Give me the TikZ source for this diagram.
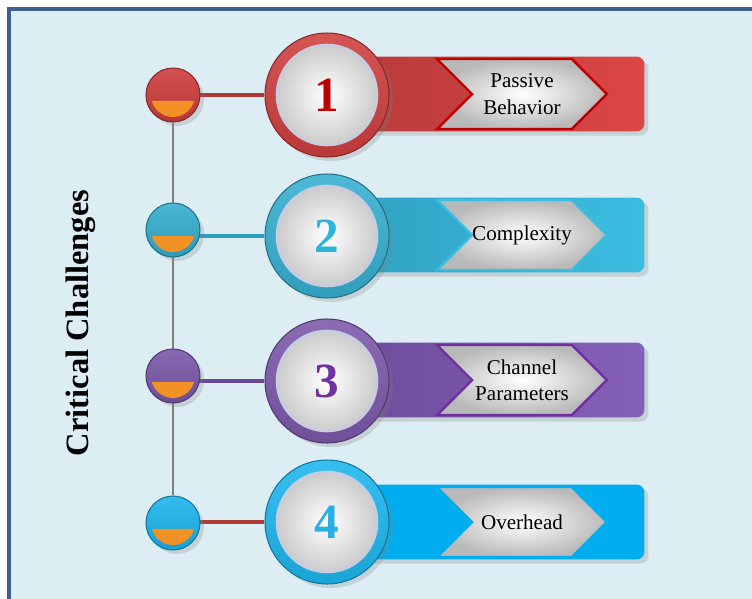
\documentclass[tikz,border=0pt]{standalone}
\usepackage{fontspec}
\setmainfont{Liberation Serif}
\usetikzlibrary{shapes.symbols,shadows}

\definecolor{bgblue}{HTML}{DCEEF4}
\definecolor{framecol}{HTML}{3F5F92}
\definecolor{dotorange}{HTML}{F39224}
\definecolor{lavender}{HTML}{C8CCE0}
\definecolor{redA}{HTML}{B23838}
\definecolor{redB}{HTML}{DC4646}
\definecolor{redRing}{HTML}{CF3E3E}
\definecolor{redNum}{HTML}{C00000}
\definecolor{tealA}{HTML}{2E9EBE}
\definecolor{tealB}{HTML}{3BBDE0}
\definecolor{tealRing}{HTML}{35AFD0}
\definecolor{tealNum}{HTML}{2BB5DA}
\definecolor{purA}{HTML}{6A4896}
\definecolor{purB}{HTML}{8560B8}
\definecolor{purRing}{HTML}{7C58AA}
\definecolor{purNum}{HTML}{7030A0}
\definecolor{cyanA}{HTML}{00AEEF}
\definecolor{cyanRing}{HTML}{1CB6EE}
\definecolor{cyanNum}{HTML}{2AAEE6}

\tikzset{
    panel/.style={draw=framecol, line width=1.8pt, fill=bgblue},
    headline/.style={rotate=90, font=\fontsize{18.5}{20}\selectfont\bfseries}
}
\tikzset{
    dot/.style={circle, minimum size=1.08cm, inner sep=0pt,
    	draw=#1!65!black, line width=0.6pt,
    	top color=#1!90!white, bottom color=#1!88!black,
    	drop shadow={opacity=0.25},
    	path picture={\fill[dotorange]
    		([shift={(195.8:0.44cm)}]path picture bounding box.center)
    		arc[start angle=195.8, end angle=344.2, radius=0.44cm] -- cycle;}}
}
\tikzset{
    ring/.style={circle, minimum size=2.48cm, inner sep=0pt,
    	draw=#1!65!black, line width=0.6pt,
    	top color=#1!88!white, bottom color=#1!90!black,
    	drop shadow={opacity=0.25},
    	font=\fontsize{28}{30}\selectfont\bfseries,
    	path picture={
    		\shade[inner color=white, outer color=gray!50]
    			(path picture bounding box.center) circle (1cm);
    		\draw[lavender, line width=1.5pt]
    			(path picture bounding box.center) circle (1cm);}}
}
\tikzset{
    banner/.style 2 args={rounded corners=0.16cm, minimum width=6.9cm,
    	minimum height=1.5cm, left color=#1, right color=#2,
    	drop shadow={opacity=0.25}},
    tag/.style={signal, signal from=west, signal to=east,
    	minimum width=3.4cm, minimum height=1.4cm, inner sep=0pt,
    	inner color=white, outer color=gray!55, draw=#1, line width=1.4pt,
    	align=center, font=\fontsize{12}{15}\selectfont}
}
\tikzset{
    spine/.style={draw=gray, line width=0.6pt},
    link/.style={line width=1.8pt}
}
\pgfdeclarelayer{background}
\pgfsetlayers{background,main}

\begin{document}
\begin{tikzpicture}[x=0.02cm, y=-0.02cm]
	\useasboundingbox (0,0) rectangle (752,599);
	\begin{pgfonlayer}{background}
		\fill[white] (0,0) rectangle (752,599);
		\draw[panel] (9,9) rectangle (800,650);
	\end{pgfonlayer}

	\node[headline] (t) at (81,323) {Critical Challenges};

	\node[banner={redA}{redB}] (b1) at (472,94) {};
	\node[banner={tealA}{tealB}] (b2) at (472,235) {};
	\node[banner={purA}{purB}] (b3) at (472,380) {};
	\node[banner={cyanA}{cyanA}] (b4) at (472,522) {};

	\node[tag=redNum] (p1) at (522,94) {Passive\\Behavior};
	\node[tag=tealB] (p2) at (522,235) {Complexity};
	\node[tag=purNum] (p3) at (522,380) {Channel\\Parameters};
	\node[tag=cyanA] (p4) at (522,522) {Overhead};

	\node[ring=redRing, text=redNum] (c1) at (327,95) {1};
	\node[ring=tealRing, text=tealNum] (c2) at (327,236) {2};
	\node[ring=purRing, text=purNum] (c3) at (327,381) {3};
	\node[ring=cyanRing, text=cyanNum] (c4) at (327,522) {4};

	\node[dot=redRing] (s1) at (173,95) {};
	\node[dot=tealRing] (s2) at (173,230) {};
	\node[dot=purRing] (s3) at (173,376) {};
	\node[dot=cyanRing] (s4) at (173,523) {};

	\begin{pgfonlayer}{background}
		\draw[spine] (s1) -- (s4);
		\draw[link, redA] (s1 |- c1) -- (c1);
		\draw[link, tealA] (s2 |- c2) -- (c2);
		\draw[link, purA] (s3 |- c3) -- (c3);
		\draw[link, redA] (s4 |- c4) -- (c4);
	\end{pgfonlayer}
\end{tikzpicture}
\end{document}
